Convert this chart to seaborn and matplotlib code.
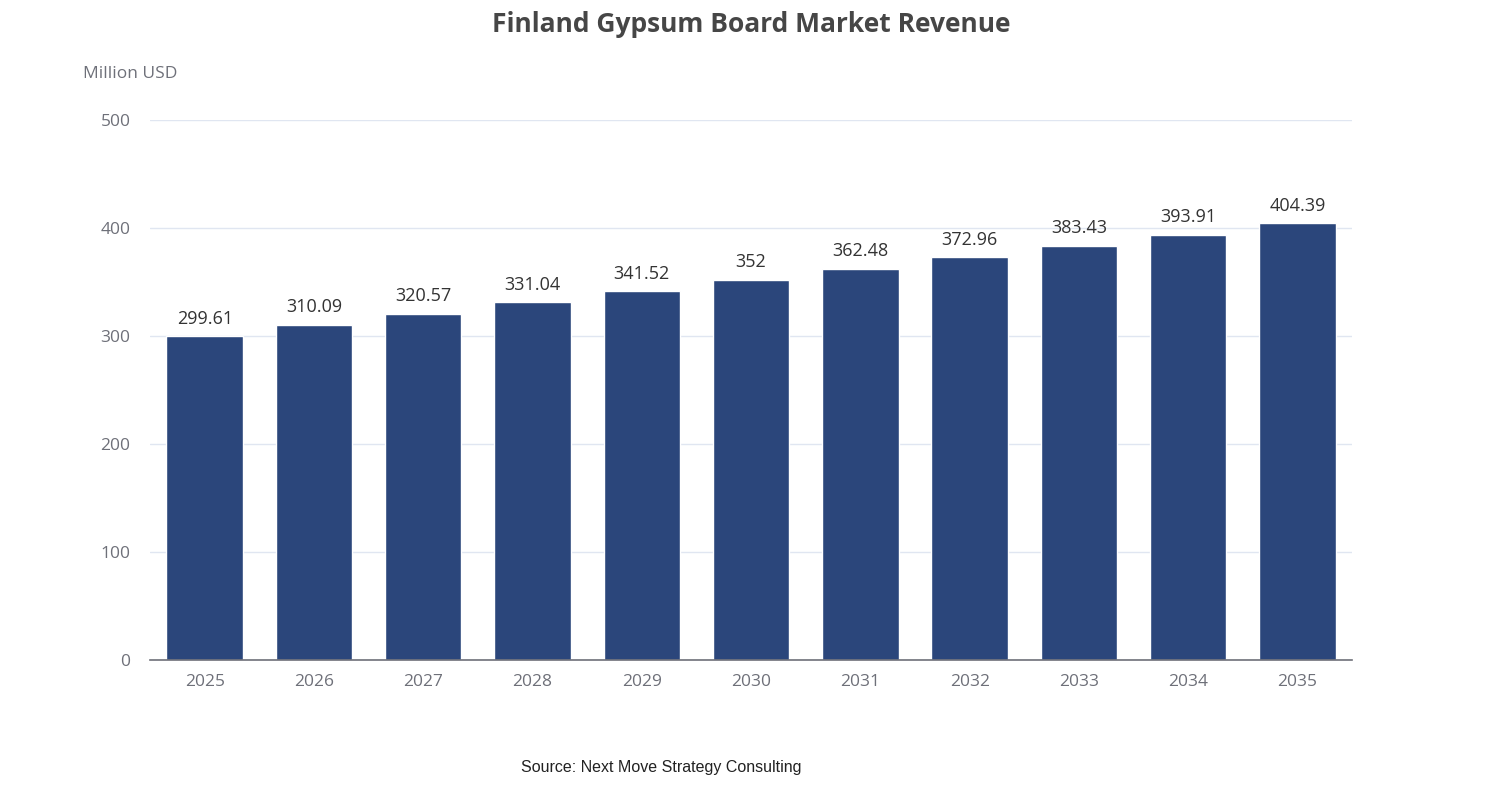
import numpy as np
import pandas as pd
import matplotlib
matplotlib.use("Agg")
import matplotlib.pyplot as plt
import seaborn as sns

years = ['2025', '2026', '2027', '2028', '2029', '2030', '2031', '2032', '2033', '2034', '2035']
revenue = [299.61, 310.09, 320.57, 331.04, 341.52, 352, 362.48, 372.96, 383.43, 393.91, 404.39]
labels = ['299.61', '310.09', '320.57', '331.04', '341.52', '352', '362.48', '372.96', '383.43', '393.91', '404.39']

df = pd.DataFrame({'Year': years, 'Revenue': revenue})

sns.set_theme(style='white')
plt.rcParams['font.family'] = ['Open Sans', 'DejaVu Sans']

fig = plt.figure(figsize=(15.02, 8), dpi=100)
ax = fig.add_axes([0.0999, 0.175, 0.8003, 0.675])

sns.barplot(data=df, x='Year', y='Revenue', color='#2B467B', saturation=1, width=0.7, ax=ax)

for i, (v, t) in enumerate(zip(revenue, labels)):
    ax.text(i, v + 8, t, ha='center', va='bottom', fontsize=13, color='#333333')

ax.set_xlim(-0.5, len(years) - 0.5)
ax.set_ylim(0, 500)
ax.set_yticks([0, 100, 200, 300, 400, 500])
ax.yaxis.grid(True, color='#E0E6F1', linewidth=1)
ax.set_axisbelow(True)
for s in ['top', 'right', 'left']:
    ax.spines[s].set_visible(False)
ax.spines['bottom'].set_color('#6E7079')
ax.spines['bottom'].set_linewidth(1.2)
ax.tick_params(axis='y', length=0, labelsize=12.5, labelcolor='#6E7079', pad=14)
ax.tick_params(axis='x', which='major', length=0, labelsize=12.5, labelcolor='#6E7079', pad=10)
ax.set_xticks(np.arange(-0.5, len(years)), minor=True)
ax.tick_params(axis='x', which='minor', length=6, color='#6E7079', width=1.2)
ax.set_xlabel('')
ax.set_ylabel('')

fig.text(0.0553, 0.907, 'Million USD', fontsize=12.5, color='#6E7079', ha='left', va='center')
fig.text(0.5, 0.97, 'Finland Gypsum Board Market Revenue', fontsize=19, fontweight='bold',
         color='#464646', ha='center', va='center')
fig.text(0.44, 0.041, 'Source: Next Move Strategy Consulting', fontsize=11.5, color='#222222',
         ha='center', va='center', family=['Liberation Sans', 'DejaVu Sans'])

fig.savefig('out.png', dpi=100)
